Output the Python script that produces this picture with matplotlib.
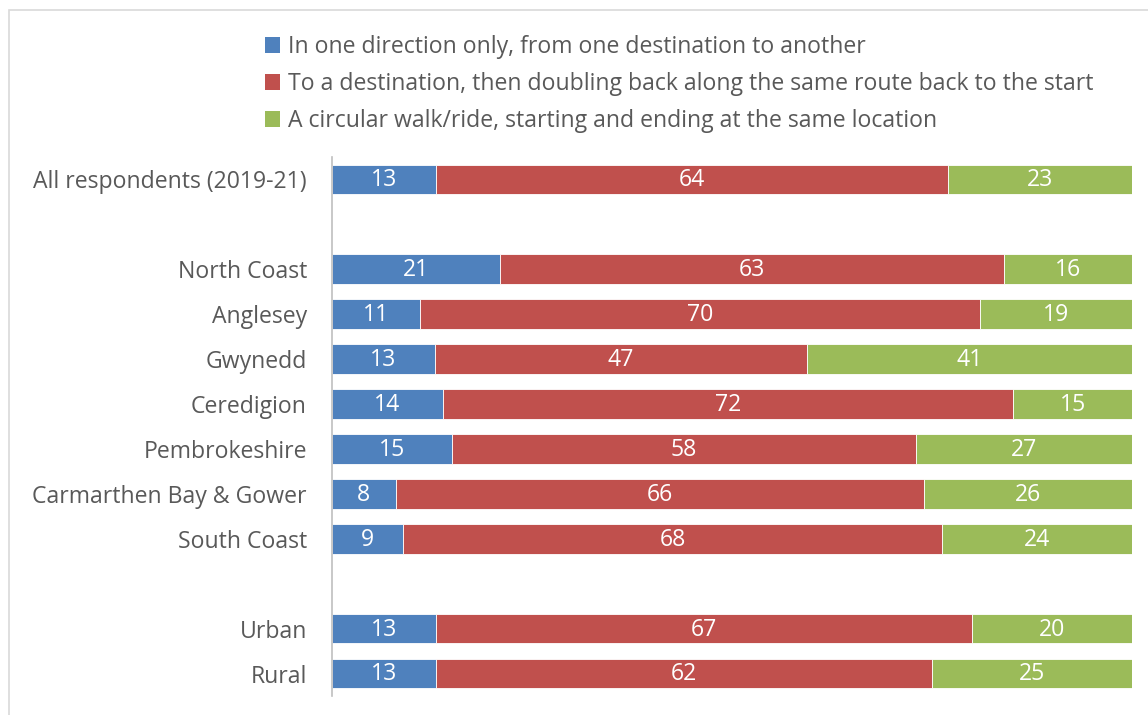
import matplotlib
matplotlib.use("Agg")
import matplotlib.pyplot as plt
from matplotlib.patches import Rectangle, Patch
import numpy as np

categories = ["All respondents (2019-21)", "", "North Coast", "Anglesey", "Gwynedd",
              "Ceredigion", "Pembrokeshire", "Carmarthen Bay & Gower", "South Coast",
              "", "Urban", "Rural"]
one_direction = [13, None, 21, 11, 13, 14, 15, 8, 9, None, 13, 13]
doubling_back = [64, None, 63, 70, 47, 72, 58, 66, 68, None, 67, 62]
circular = [23, None, 16, 19, 41, 15, 27, 26, 24, None, 20, 25]
series_names = ["In one direction only, from one destination to another",
                "To a destination, then doubling back along the same route back to the start",
                "A circular walk/ride, starting and ending at the same location"]
colors = ["#4F81BD", "#C0504D", "#9BBB59"]

plt.rcParams['font.family'] = ['Open Sans', 'DejaVu Sans']
FS = 16.6
W, H = 1148, 715
fig = plt.figure(figsize=(W / 100, H / 100), dpi=100)

# chart border
fig.patches.append(Rectangle((9 / W, -0.05), 1.2, (H - 10) / H + 0.05, transform=fig.transFigure,
                             fill=False, edgecolor="#D9D9D9", linewidth=1.2))

ax = fig.add_axes([332 / W, (H - 696) / H, (1132 - 332) / W, (696 - 157) / H])
n = len(categories)
y = np.arange(n)
series = [one_direction, doubling_back, circular]
for i in range(n):
    if one_direction[i] is None:
        continue
    vals = [s[i] for s in series]
    tot = sum(vals)
    left = 0
    for v, c in zip(vals, colors):
        w = v / tot * 100
        ax.barh(y[i], w, left=left, height=0.66, color=c, edgecolor="white", linewidth=0.6)
        ax.text(left + w / 2, y[i] + 0.02, str(v), ha="center", va="center", color="white", fontsize=FS)
        left += w

ax.set_xlim(0, 100)
ax.set_ylim(n - 0.5, -0.5)
ax.set_yticks(y)
ax.set_yticklabels(categories, fontsize=FS, color="#595959")
ax.tick_params(axis="y", length=0, pad=18)
ax.set_xticks([])
for s in ["top", "right", "bottom"]:
    ax.spines[s].set_visible(False)
ax.spines["left"].set_color("#BFBFBF")
ax.spines["left"].set_linewidth(1.2)

handles = [Patch(facecolor=c, edgecolor="none") for c in colors]
fig.legend(handles, series_names, loc="upper left", bbox_to_anchor=(256 / W, 1 - 26 / H),
           frameon=False, fontsize=FS, labelcolor="#595959", handlelength=0.65, handleheight=0.65,
           handletextpad=0.35, labelspacing=0.56, borderaxespad=0)

fig.savefig("out.png", dpi=100)
